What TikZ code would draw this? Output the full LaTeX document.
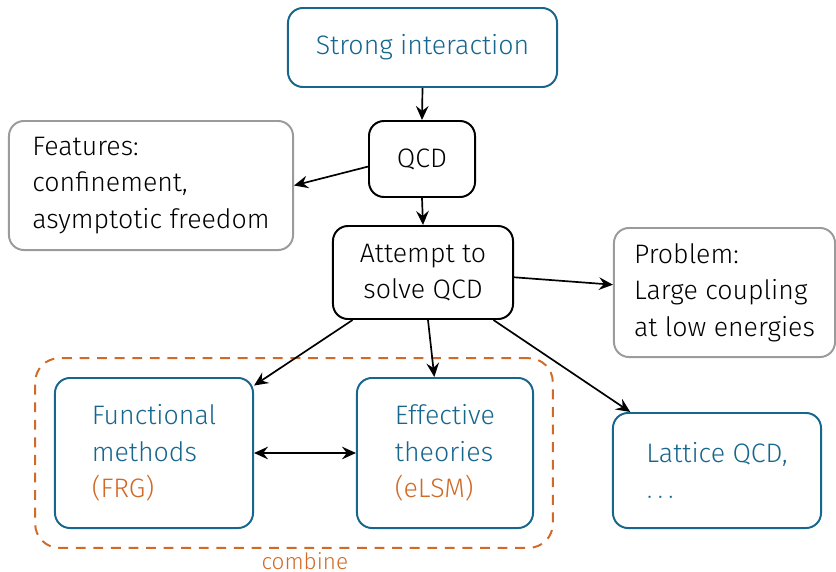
\documentclass[tikz,border=0pt]{standalone}
\usepackage{fontspec}
\setmainfont{Fira Sans}[UprightFont=* Light]
\usepackage{xcolor}
\definecolor{qcdblue}{RGB}{22, 102, 142}
\definecolor{qcdorange}{RGB}{208, 106, 38}
\definecolor{qcdgray}{RGB}{155, 155, 155}
\usepackage{tikz}
\usetikzlibrary{arrows.meta, positioning, fit}

\begin{document}
\begin{tikzpicture}[x=0.025cm, y=-0.025cm,
        box/.style={rectangle, draw=black, rounded corners=0.375cm, line width=1.4pt, align=center, font=\fontsize{19}{26}\selectfont},
        bluebox/.style={box, draw=qcdblue, text=qcdblue},
        graybox/.style={box, draw=qcdgray, align=left},
        combinebox/.style={draw=qcdorange, dash pattern=on 7pt off 5.5pt, line width=1.4pt, rounded corners=0.6cm, inner sep=0.47cm},
        line/.style={draw, -{Stealth[length=10pt, width=9pt, inset=3.5pt]}, line width=1.2pt}]
        \useasboundingbox (0,0) rectangle (836,572);

        \node [bluebox, minimum width=6.725cm, minimum height=1.975cm] (strong) at (422.5,47.5) {Strong interaction};
        \node [box, minimum width=2.65cm, minimum height=1.9cm] (qcd) at (422,159) {QCD};
        \node [graybox, minimum width=7.1cm, minimum height=3.225cm] (feat) at (151,185.5) {Features:\\confinement,\\asymptotic freedom};
        \node [box, minimum width=4.5cm, minimum height=2.325cm] (attempt) at (423,272.5) {Attempt to\\solve QCD};
        \node [graybox, minimum width=5.525cm, minimum height=3.225cm] (problem) at (724.5,292.5) {Problem:\\Large coupling\\at low energies};

        \node [bluebox, align=left, minimum width=4.95cm, minimum height=3.75cm] (func) at (154,453) {Functional\\methods\\\textcolor{qcdorange}{(FRG)}};
        \node [bluebox, align=left, minimum width=4.4cm, minimum height=3.75cm] (eff) at (445,453) {Effective\\theories\\\textcolor{qcdorange}{(eLSM)}};
        \node [bluebox, align=left, minimum width=5.2cm, minimum height=2.875cm] (lattice) at (717,470.5) {Lattice QCD,\\$\ldots$};

        \node [combinebox, fit=(func)(eff), label={[text=qcdorange, font=\fontsize{16}{18}\selectfont, inner sep=0pt, xshift=0.27cm, yshift=-0.09cm]below:combine}] (combine) {};

        \path [line] (strong.south) -- (qcd.north);
        \path [line] (qcd.188) -- (feat.east);
        \path [line] (qcd.south) -- (attempt.north);
        \path [line] (attempt.357) -- (problem.176);
        \path [line] (attempt.214) -- (func.34);
        \path [line] (attempt.276) -- (eff.98);
        \path [line] (attempt.326) -- (lattice.146);
        \path [line, {Stealth[length=10pt, width=9pt, inset=3.5pt]}-{Stealth[length=10pt, width=9pt, inset=3.5pt]}] (func.east) -- (eff.west);
    \end{tikzpicture}
\end{document}
